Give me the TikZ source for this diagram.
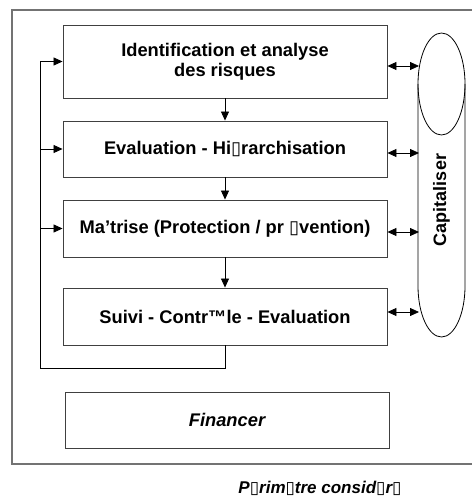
\documentclass[tikz,border=0pt]{standalone}
\usepackage{fontspec}
\setmainfont{Liberation Sans}
\newfontfamily\dejavu{DejaVu Sans}
\usetikzlibrary{arrows.meta}
\newcommand{\boite}{{\dejavu\mdseries ▯}}

\begin{document}
\begin{tikzpicture}[x=1pt,y=-1pt,
  etape/.style={draw=black!75,line width=0.9pt,minimum width=324pt,align=center,
    inner sep=0pt,font=\fontsize{18.3}{20}\selectfont\bfseries},
  fleche/.style={-{Triangle[length=9pt,width=8pt]},line width=0.8pt},
  double/.style={{Triangle[length=9pt,width=8pt]}-{Triangle[length=9pt,width=8pt]},line width=0.8pt}]
%\draw[step=10pt,gray,very thin] (0,0) grid (471,497); %background grid
\useasboundingbox (0,0) rectangle (471,497);

\draw[black!55,line width=1.3pt] (12,10) rectangle (480,464);

\node[etape,minimum height=73pt] (ident) at (225,61.5) {Identification et analyse\\des risques};
\node[etape,minimum height=56pt] (eval) at (225,149) {Evaluation - Hi\boite rarchisation};
\node[etape,minimum height=57pt] (maitrise) at (225,228.5) {Ma’trise (Protection / pr \boite vention)};
\node[etape,minimum height=57pt] (suivi) at (225,316.5) {Suivi - Contr™le - Evaluation};
\node[etape,minimum height=56pt] (financer) at (227,420) {\itshape Financer};

\draw[fleche] (ident) -- (eval);
\draw[fleche] (eval) -- (maitrise);
\draw[fleche] (maitrise) -- (suivi);

% boucle de retour
\coordinate (retour) at (40,368);
\draw[fleche] (suivi.south) |- (retour) |- (ident.west);
\draw[fleche] (retour |- eval.west) -- (eval.west);
\draw[fleche] (retour |- maitrise.west) -- (maitrise.west);

% capitaliser
\draw[line width=0.8pt] (441.5,84) ellipse [x radius=23.5pt, y radius=51pt];
\draw[line width=0.8pt] (465,84) -- (465,286) arc [start angle=0, end angle=-180, x radius=23.5pt, y radius=51pt] -- (418,84);
\node[rotate=90,font=\fontsize{18}{20}\selectfont\bfseries] (capi) at (441.5,200) {Capitaliser};
\coordinate (bord) at (419,0);

\draw[double] ([yshift=-4.5pt]ident.east) -- ([yshift=-4.5pt]ident.east -| bord);
\draw[double] ([yshift=-4pt]eval.east) -- ([yshift=-4pt]eval.east -| bord);
\draw[double] ([yshift=-3.5pt]maitrise.east) -- ([yshift=-3.5pt]maitrise.east -| bord);
\draw[double] ([yshift=4.5pt]suivi.east) -- ([yshift=4.5pt]suivi.east -| bord);

\node[font=\fontsize{17}{19}\selectfont\bfseries\itshape] (perimetre) at (320,488) {P\boite rim\boite tre consid\boite r\boite};

\end{tikzpicture}
\end{document}
